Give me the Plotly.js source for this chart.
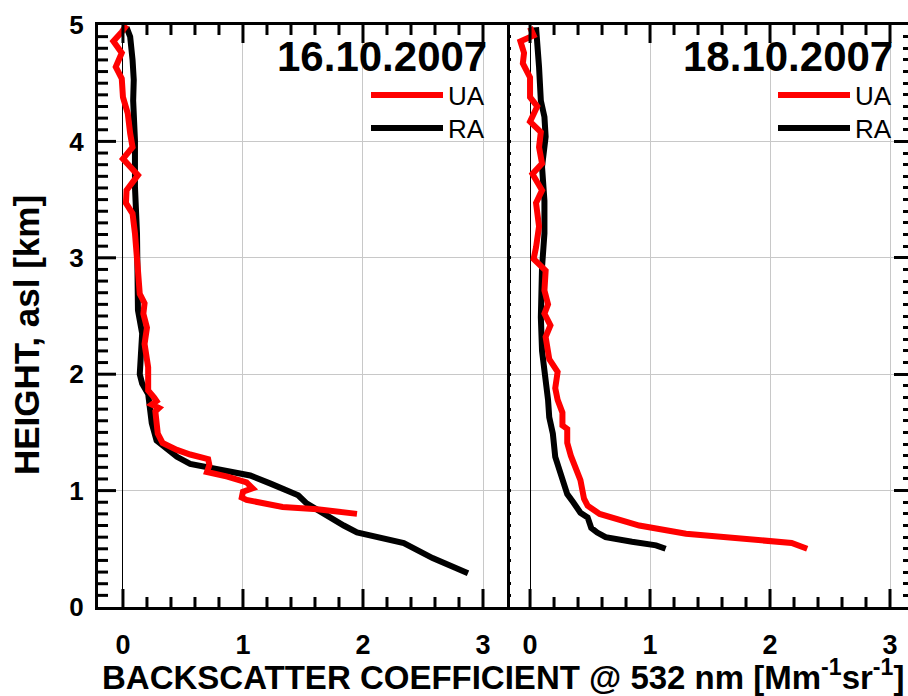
<!DOCTYPE html>
<html>
<head>
<meta charset="utf-8">
<script src="https://cdn.plot.ly/plotly-3.0.1.min.js"></script>
<style>html,body{margin:0;padding:0;background:#fff;overflow:hidden;}#chart{width:908px;height:696px;}</style>
</head>
<body>
<div id="chart"></div>
<script>
// ---- Data ----
const panelDates = ['16.10.2007', '18.10.2007'];
const seriesNames = ['UA', 'RA'];
const xTickVals = [0, 1, 2, 3];
const yTickVals = [0, 1, 2, 3, 4, 5];

// 16.10.2007 - UA (red)
const ua16Height = [5.0, 4.94, 4.86, 4.76, 4.64, 4.54, 4.38, 4.24, 4.07, 3.95, 3.85, 3.71, 3.58, 3.47, 3.38, 3.21, 2.89, 2.69, 2.61, 2.52, 2.40, 2.26, 2.06, 1.86, 1.80, 1.77, 1.74, 1.71, 1.68, 1.49, 1.41, 1.35, 1.31, 1.27, 1.22, 1.16, 1.12, 1.07, 1.02, 0.99, 0.94, 0.92, 0.86, 0.84, 0.80];
const ua16Value  = [0.03, -0.01, -0.08, -0.01, -0.06, -0.01, 0.0, 0.04, 0.06, 0.08, 0.0, 0.125, 0.03, 0.025, 0.08, 0.10, 0.125, 0.14, 0.18, 0.17, 0.20, 0.18, 0.21, 0.21, 0.26, 0.28, 0.24, 0.30, 0.27, 0.29, 0.33, 0.45, 0.56, 0.71, 0.72, 0.70, 0.87, 1.03, 1.08, 1.00, 0.99, 1.03, 1.33, 1.62, 1.95];

// 16.10.2007 - RA (black)
const ra16Height = [4.98, 4.90, 4.70, 4.53, 4.35, 4.01, 3.61, 3.21, 2.55, 2.35, 2.00, 1.92, 1.83, 1.58, 1.43, 1.36, 1.29, 1.23, 1.20, 1.17, 1.13, 1.06, 0.96, 0.89, 0.80, 0.70, 0.64, 0.59, 0.55, 0.42, 0.29];
const ra16Value  = [0.03, 0.06, 0.08, 0.09, 0.085, 0.10, 0.10, 0.117, 0.125, 0.16, 0.14, 0.16, 0.21, 0.24, 0.28, 0.37, 0.45, 0.56, 0.70, 0.89, 1.06, 1.23, 1.46, 1.53, 1.67, 1.84, 1.95, 2.17, 2.34, 2.58, 2.875];

// 18.10.2007 - UA (red)
const ua18Height = [4.98, 4.91, 4.86, 4.76, 4.67, 4.55, 4.38, 4.30, 4.17, 4.08, 3.95, 3.81, 3.72, 3.58, 3.47, 3.27, 3.09, 2.99, 2.89, 2.72, 2.60, 2.52, 2.42, 2.32, 2.13, 2.02, 1.88, 1.78, 1.67, 1.56, 1.53, 1.41, 1.30, 1.15, 1.09, 0.93, 0.87, 0.80, 0.74, 0.70, 0.63, 0.60, 0.55, 0.50];
const ua18Value  = [0.0, 0.03, -0.08, -0.05, -0.06, 0.0, 0.0, 0.06, 0.0, 0.09, 0.075, 0.10, 0.02, 0.10, 0.05, 0.075, 0.05, 0.03, 0.13, 0.12, 0.15, 0.12, 0.17, 0.13, 0.16, 0.23, 0.21, 0.23, 0.27, 0.27, 0.31, 0.31, 0.34, 0.39, 0.42, 0.45, 0.48, 0.58, 0.77, 0.91, 1.30, 1.68, 2.18, 2.31];

// 18.10.2007 - RA (black)
const ra18Height = [4.98, 4.87, 4.64, 4.35, 4.21, 4.04, 3.78, 3.49, 3.21, 2.92, 2.49, 2.20, 2.06, 1.92, 1.78, 1.63, 1.49, 1.29, 1.20, 1.09, 0.97, 0.90, 0.81, 0.77, 0.68, 0.64, 0.60, 0.56, 0.53, 0.50];
const ra18Value  = [0.05, 0.06, 0.075, 0.09, 0.12, 0.13, 0.10, 0.12, 0.12, 0.10, 0.09, 0.10, 0.12, 0.13, 0.15, 0.16, 0.19, 0.21, 0.24, 0.27, 0.31, 0.36, 0.42, 0.48, 0.51, 0.56, 0.63, 0.85, 1.05, 1.13];

// ---- Styling ----
const FONT = 'Liberation Sans, Arial, Helvetica, sans-serif';
const RED = '#ff0000', BLACK = '#000000';
const LW = 6;

const W = 908, H = 696;
const mL = 98, mR = 0, mT = 25, mB = 89;
const plotW = W - mL - mR, plotH = H - mT - mB;
const split = (507 - mL) / plotW;
const xRange1 = [-0.208, 3.2], xRange2 = [-0.192, 3.15], yRange = [0, 5];

function trace(x, y, name, color, xa, ya, legend) {
  return {x: x, y: y, name: name, type: 'scatter', mode: 'lines',
    line: {color: color, width: LW}, xaxis: xa, yaxis: ya,
    legend: legend, hoverinfo: 'skip'};
}
function holder(xa, ya) {
  return {x: [], y: [], type: 'scatter', mode: 'lines', xaxis: xa, yaxis: ya,
    showlegend: false, hoverinfo: 'skip'};
}

// Inside tick marks drawn as short line segments on each panel's own scales.
// Lengths are given in pixels and turned into axis units from the axis span.
const yPxPerUnit = plotH / (yRange[1] - yRange[0]);
function xPxPerUnit(domain, range) { return plotW * (domain[1] - domain[0]) / (range[1] - range[0]); }
function tickSegs(xa, ya, vals, len, orient, at, dir, unitPx) {
  const xs = [], ys = [];
  const d = dir * len / unitPx;
  vals.forEach(function (v) {
    if (orient === 'x') { xs.push(v, v, null); ys.push(at, at + d, null); }
    else { xs.push(at, at + d, null); ys.push(v, v, null); }
  });
  return {x: xs, y: ys, xaxis: xa, yaxis: ya, type: 'scatter', mode: 'lines',
    cliponaxis: false, connectgaps: false, showlegend: false, hoverinfo: 'skip',
    line: {color: BLACK, width: 3}};
}
const tickTraces = [];
[['x', 'y', xRange1, [0, split]], ['x2', 'y2', xRange2, [split, 1]]].forEach(function (p) {
  const xr = p[2];
  const majors = [], minors = [];
  for (let k = 0; k * 0.2 < xr[1] - 0.01; k++) {
    const v = Math.round(k * 2) / 10;
    if (xTickVals.indexOf(v) >= 0) majors.push(v); else minors.push(v);
  }
  tickTraces.push(tickSegs(p[0], p[1], majors, 18, 'x', yRange[0], 1, yPxPerUnit));
  tickTraces.push(tickSegs(p[0], p[1], minors, 10, 'x', yRange[0], 1, yPxPerUnit));
  tickTraces.push(tickSegs(p[0], p[1], majors, 18, 'x', yRange[1], -1, yPxPerUnit));
  tickTraces.push(tickSegs(p[0], p[1], minors, 10, 'x', yRange[1], -1, yPxPerUnit));
});
(function () {
  const majors = [], minors = [];
  for (let k = 1; k < 50; k++) {
    if (k % 10 === 0) majors.push(k / 10); else minors.push(k / 10);
  }
  const ux = xPxPerUnit([0, split], xRange1);
  tickTraces.push(tickSegs('x', 'y', majors, 18, 'y', xRange1[0], 1, ux));
  tickTraces.push(tickSegs('x', 'y', minors, 10, 'y', xRange1[0], 1, ux));
})();

const data = [
  trace(ra16Value, ra16Height, seriesNames[1], BLACK, 'x', 'y', 'legend3'),
  trace(ua16Value, ua16Height, seriesNames[0], RED, 'x', 'y', 'legend'),
  trace(ra18Value, ra18Height, seriesNames[1], BLACK, 'x2', 'y2', 'legend4'),
  trace(ua18Value, ua18Height, seriesNames[0], RED, 'x2', 'y2', 'legend2'),
  holder('x2', 'y4'), holder('x2', 'y6')
].concat(tickTraces);

function labelX(domain, range, anchor) {
  return {domain: domain, range: range, anchor: anchor,
    tickvals: xTickVals, ticktext: xTickVals.map(String), ticks: '',
    showline: true, linewidth: 3, linecolor: BLACK, mirror: true,
    showgrid: true, gridcolor: '#c8c8c8', gridwidth: 1,
    zeroline: true, zerolinecolor: BLACK, zerolinewidth: 1,
    tickfont: {family: FONT, size: 27, weight: 'bold', color: BLACK},
    ticklabelstandoff: 12, automargin: false, fixedrange: true};
}
function tickAxis(over, anchor, range, side, len, step) {
  return {overlaying: over, anchor: anchor, range: range, side: side,
    tickmode: 'linear', tick0: 0, dtick: step,
    ticks: 'inside', ticklen: len, tickwidth: 3, tickcolor: BLACK,
    showticklabels: false, showline: false, mirror: false,
    showgrid: false, zeroline: false, automargin: false, fixedrange: true};
}

const legendBase = {bgcolor: 'rgba(0,0,0,0)', borderwidth: 0, itemwidth: 72,
  font: {family: FONT, size: 26, color: BLACK}, xanchor: 'right', yanchor: 'middle'};
function legendAt(px, py) {
  return Object.assign({}, legendBase, {x: (px - mL) / plotW, y: (607 - py) / plotH});
}

const layout = {
  width: W, height: H,
  margin: {l: mL, r: mR, t: mT, b: mB, pad: 0},
  paper_bgcolor: '#ffffff', plot_bgcolor: 'rgba(0,0,0,0)',
  font: {family: FONT, color: BLACK},
  showlegend: true,
  xaxis: labelX([0, split], xRange1, 'y'),
  xaxis2: labelX([split, 1], xRange2, 'y2'),
  yaxis: {domain: [0, 1], range: yRange, anchor: 'x',
    tickvals: yTickVals, ticktext: yTickVals.map(String), ticks: '',
    showline: true, linewidth: 3, linecolor: BLACK, mirror: true,
    showgrid: true, gridcolor: '#c8c8c8', gridwidth: 1, zeroline: false,
    tickfont: {family: FONT, size: 26, weight: 'bold', color: BLACK},
    ticklabelstandoff: 6, automargin: false, fixedrange: true},
  yaxis2: {domain: [0, 1], range: yRange, anchor: 'x2', side: 'right',
    tickvals: yTickVals, showticklabels: false,
    ticks: 'inside', ticklen: 14, tickwidth: 3, tickcolor: BLACK,
    showline: true, linewidth: 3, linecolor: BLACK, mirror: false,
    showgrid: true, gridcolor: '#c8c8c8', gridwidth: 1, zeroline: false,
    automargin: false, fixedrange: true},
  yaxis4: tickAxis('y2', 'x2', yRange, 'right', 5, 0.1),
  yaxis6: tickAxis('y2', 'x2', yRange, 'left', 4, 0.1),
  legend: legendAt(490, 95),
  legend3: legendAt(490, 128),
  legend2: legendAt(897, 95),
  legend4: legendAt(897, 128),
  annotations: [
    {xref: 'paper', yref: 'paper', x: (489 - mL) / plotW, y: (607 - 56) / plotH,
     xanchor: 'right', yanchor: 'middle', showarrow: false, text: panelDates[0],
     font: {family: FONT, size: 42, weight: 'bold', color: BLACK}},
    {xref: 'paper', yref: 'paper', x: (895 - mL) / plotW, y: (607 - 56) / plotH,
     xanchor: 'right', yanchor: 'middle', showarrow: false, text: panelDates[1],
     font: {family: FONT, size: 42, weight: 'bold', color: BLACK}},
    {xref: 'paper', yref: 'paper', x: 0.5, y: -(675 - 607) / plotH,
     xanchor: 'center', yanchor: 'middle', showarrow: false,
     text: 'BACKSCATTER COEFFICIENT @ 532 nm [Mm<sup>-1</sup>sr<sup>-1</sup>]',
     font: {family: FONT, size: 33, weight: 'bold', color: BLACK}},
    {xref: 'paper', yref: 'paper', x: (26 - mL) / plotW, y: (607 - 335) / plotH,
     xanchor: 'center', yanchor: 'middle', showarrow: false, textangle: -90,
     text: 'HEIGHT, asl [km]',
     font: {family: FONT, size: 35, weight: 'bold', color: BLACK}}
  ]
};

Plotly.newPlot('chart', data, layout, {displayModeBar: false, staticPlot: true});
</script>
</body>
</html>
